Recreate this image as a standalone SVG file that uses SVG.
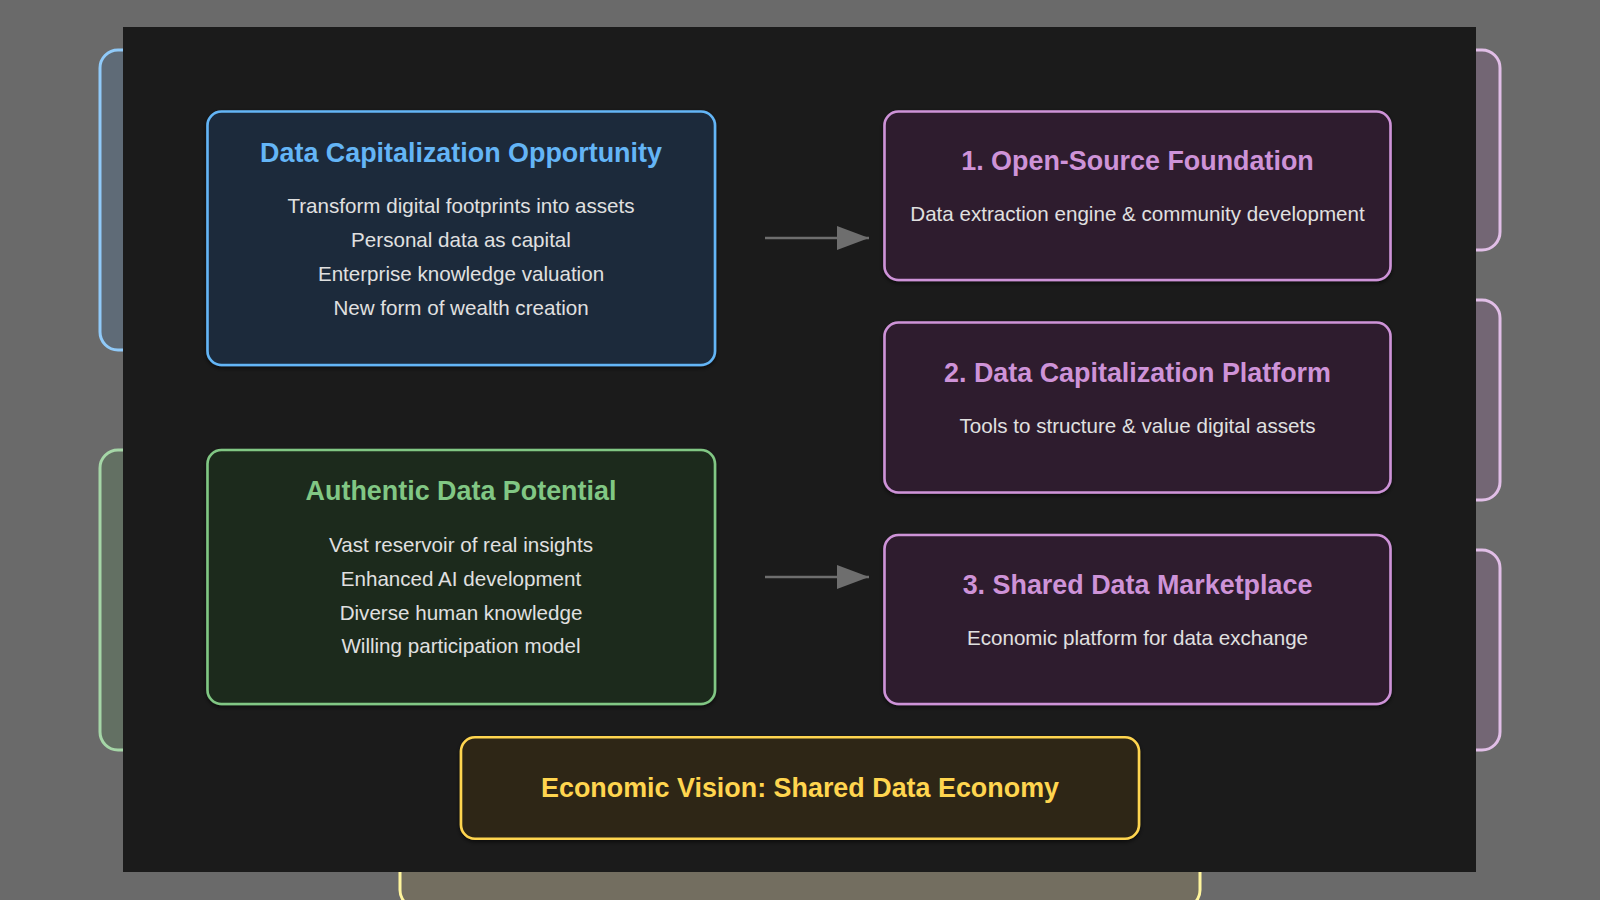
<svg xmlns="http://www.w3.org/2000/svg" width="1600" height="900" viewBox="0 0 1600 900">
  <defs>
    <filter id="shadow" x="-10%" y="-10%" width="120%" height="130%">
      <feDropShadow dx="0" dy="2" stdDeviation="2" flood-color="#000" flood-opacity="0.6"/>
    </filter>
    <marker id="arrowhead" viewBox="0 0 32 24" refX="32" refY="12" markerWidth="32" markerHeight="24" markerUnits="userSpaceOnUse" orient="auto">
      <path d="M0,0 L32,12 L0,24 Z" fill="#6e6e6e"/>
    </marker>
  </defs>
  <style>
    .ghost { stroke-width: 3; }
    .g-blue { fill: #5f6b77; stroke: #90caf9; }
    .g-green { fill: #637063; stroke: #a5d6a7; }
    .g-purple { fill: #736674; stroke: #e1bee7; }
    .g-yellow { fill: #736e60; stroke: #fff59d; }
    .box { stroke-width: 2.6; filter: url(#shadow); }
    .blue { fill: #1a2a3a; stroke: #64b5f6; }
    .green { fill: #1b2b1b; stroke: #81c784; }
    .purple { fill: #2d1a2e; stroke: #ce93d8; }
    .yellow { fill: #2e2614; stroke: #ffd54f; }
    .title { font-family: "Liberation Sans", Arial, sans-serif; font-weight: bold; font-size: 26.9px; text-anchor: middle; }
    .body { font-family: "Liberation Sans", Arial, sans-serif; font-size: 20.6px; fill: #e0e0e0; text-anchor: middle; }
    .t-blue { fill: #64b5f6; }
    .t-green { fill: #81c784; }
    .t-purple { fill: #ce93d8; }
    .t-yellow { fill: #ffd54f; }
    .conn { stroke: #6e6e6e; stroke-width: 2.6; fill: none; }
  </style>

  <rect x="0" y="0" width="1600" height="900" fill="#6a6a6a"/>

  <g id="backdrop">
    <rect class="ghost g-blue" x="100" y="50" width="600" height="300" rx="18"/>
    <rect class="ghost g-green" x="100" y="450" width="600" height="300" rx="18"/>
    <rect class="ghost g-purple" x="900" y="50" width="600" height="200" rx="18"/>
    <rect class="ghost g-purple" x="900" y="300" width="600" height="200" rx="18"/>
    <rect class="ghost g-purple" x="900" y="550" width="600" height="200" rx="18"/>
    <rect class="ghost g-yellow" x="400" y="790" width="800" height="118" rx="18"/>
  </g>

  <rect id="panel" x="123" y="27" width="1353" height="845" fill="#1b1b1b"/>

  <g id="connectors">
    <line class="conn" x1="765" y1="238" x2="869" y2="238" marker-end="url(#arrowhead)"/>
    <line class="conn" x1="765" y1="577" x2="869" y2="577" marker-end="url(#arrowhead)"/>
  </g>

  <g id="data-capitalization-opportunity">
    <rect class="box blue" x="207.5" y="111.5" width="507.5" height="253.5" rx="14"/>
    <text class="title t-blue" x="461" y="161.5">Data Capitalization Opportunity</text>
    <text class="body" x="461" y="213">Transform digital footprints into assets</text>
    <text class="body" x="461" y="247">Personal data as capital</text>
    <text class="body" x="461" y="281">Enterprise knowledge valuation</text>
    <text class="body" x="461" y="315">New form of wealth creation</text>
  </g>

  <g id="authentic-data-potential">
    <rect class="box green" x="207.5" y="450" width="507.5" height="254" rx="14"/>
    <text class="title t-green" x="461" y="500">Authentic Data Potential</text>
    <text class="body" x="461" y="551.5">Vast reservoir of real insights</text>
    <text class="body" x="461" y="585.5">Enhanced AI development</text>
    <text class="body" x="461" y="619.5">Diverse human knowledge</text>
    <text class="body" x="461" y="653">Willing participation model</text>
  </g>

  <g id="open-source-foundation">
    <rect class="box purple" x="884.5" y="111.5" width="506" height="168.5" rx="14"/>
    <text class="title t-purple" x="1137.5" y="170">1. Open-Source Foundation</text>
    <text class="body" x="1137.5" y="220.7">Data extraction engine &amp; community development</text>
  </g>

  <g id="data-capitalization-platform">
    <rect class="box purple" x="884.5" y="322.5" width="506" height="170" rx="14"/>
    <text class="title t-purple" x="1137.5" y="381.7">2. Data Capitalization Platform</text>
    <text class="body" x="1137.5" y="432.7">Tools to structure &amp; value digital assets</text>
  </g>

  <g id="shared-data-marketplace">
    <rect class="box purple" x="884.5" y="535" width="506" height="169" rx="14"/>
    <text class="title t-purple" x="1137.5" y="593.5">3. Shared Data Marketplace</text>
    <text class="body" x="1137.5" y="645">Economic platform for data exchange</text>
  </g>

  <g id="economic-vision">
    <rect class="box yellow" x="461" y="737.3" width="678" height="101.4" rx="14"/>
    <text class="title t-yellow" x="800" y="797">Economic Vision: Shared Data Economy</text>
  </g>
</svg>
